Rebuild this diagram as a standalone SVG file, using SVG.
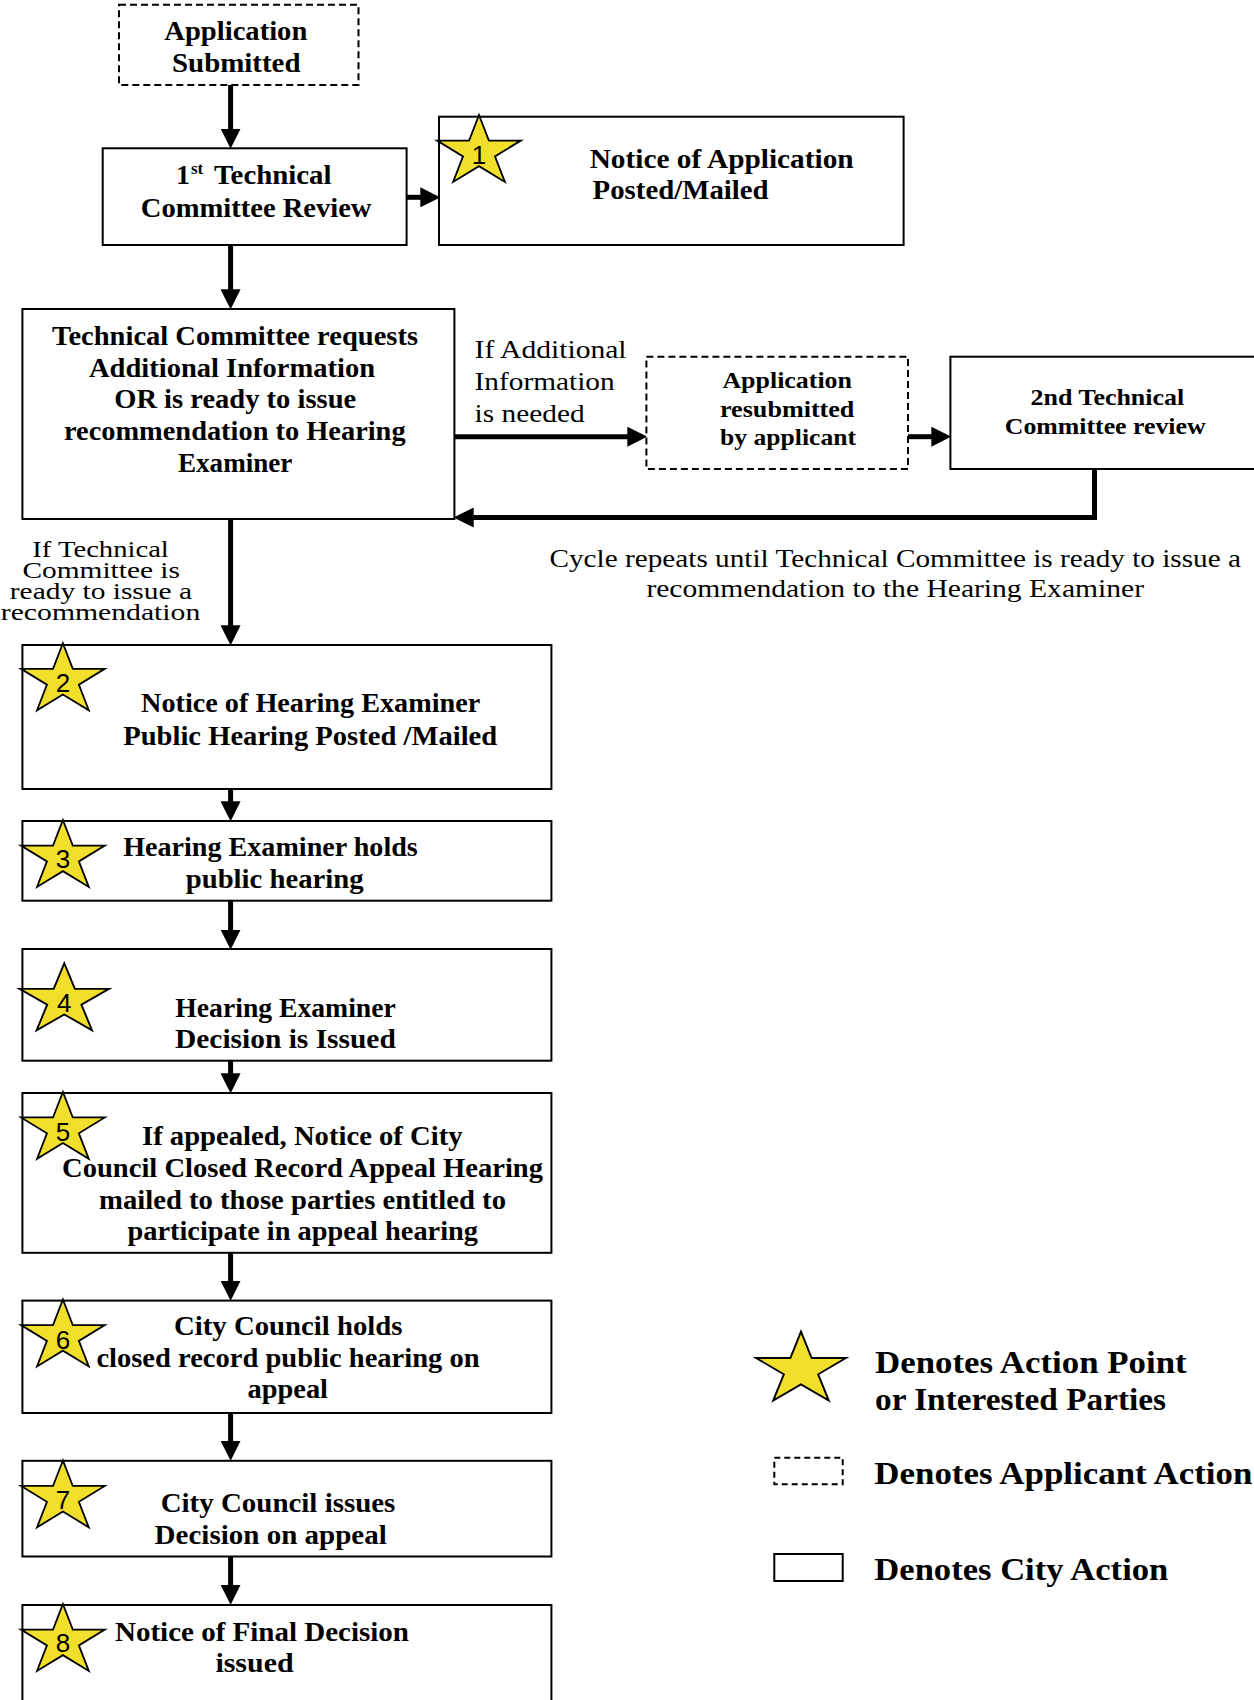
<svg xmlns="http://www.w3.org/2000/svg" xmlns:xlink="http://www.w3.org/1999/xlink" width="1254" height="1700" viewBox="0 0 1254 1700">
<style>
.box{fill:#fff;stroke:#000;stroke-width:2}
.dash{fill:#fff;stroke:#000;stroke-width:2;stroke-dasharray:7 4}
.t{font-family:"Liberation Serif","Times New Roman",serif;font-weight:bold;font-size:28px;fill:#000}
.s{font-size:24px}
.lg{font-size:31px}
.r{font-family:"Liberation Serif","Times New Roman",serif;font-weight:normal;font-size:26px;fill:#000}
.rs{font-size:23px}
.n{font-family:"Liberation Sans",Arial,sans-serif;font-size:26px;text-anchor:middle;fill:#000}
.star{fill:#F2DF2B;stroke:#000;stroke-width:1.8;stroke-linejoin:miter}
.conn{stroke:#000;stroke-width:5;fill:none;stroke-linejoin:miter}
</style>
<defs>
<marker id="ah" markerUnits="userSpaceOnUse" markerWidth="20" markerHeight="20" refX="6" refY="9" orient="auto" viewBox="0 0 18 18">
<path d="M0,0 L18,9 L0,18 Z" fill="#000"/>
</marker>
<polygon id="star" points="0,-37 9.88,-11.43 41.84,-11.43 15.97,4.37 25.87,29.93 0,14.13 -25.87,29.93 -15.97,4.37 -41.84,-11.43 -9.88,-11.43"/>
</defs>
<rect width="1254" height="1700" fill="#fff"/>

<g id="connectors">
<line class="conn" x1="230.6" y1="85" x2="230.6" y2="135.3" marker-end="url(#ah)"/>
<line class="conn" x1="406.6" y1="197.3" x2="427" y2="197.3" marker-end="url(#ah)"/>
<line class="conn" x1="230.6" y1="245" x2="230.6" y2="296" marker-end="url(#ah)"/>
<line class="conn" x1="454.4" y1="436.7" x2="634" y2="436.7" marker-end="url(#ah)"/>
<line class="conn" x1="908" y1="436.7" x2="938" y2="436.7" marker-end="url(#ah)"/>
<polyline class="conn" points="1094.5,469 1094.5,517.5 467,517.5" marker-end="url(#ah)"/>
<line class="conn" x1="230.6" y1="519" x2="230.6" y2="632" marker-end="url(#ah)"/>
<line class="conn" x1="230.6" y1="789" x2="230.6" y2="808" marker-end="url(#ah)"/>
<line class="conn" x1="230.6" y1="900.7" x2="230.6" y2="936.3" marker-end="url(#ah)"/>
<line class="conn" x1="230.6" y1="1060.7" x2="230.6" y2="1080" marker-end="url(#ah)"/>
<line class="conn" x1="230.6" y1="1252.8" x2="230.6" y2="1287.5" marker-end="url(#ah)"/>
<line class="conn" x1="230.6" y1="1413" x2="230.6" y2="1447.5" marker-end="url(#ah)"/>
<line class="conn" x1="230.6" y1="1556.5" x2="230.6" y2="1591.5" marker-end="url(#ah)"/>
</g>

<g id="app-submitted">
<rect class="dash" x="119" y="4.7" width="239.5" height="80.3"/>
<text class="t" x="164.3" y="40" textLength="143" lengthAdjust="spacingAndGlyphs">Application</text>
<text class="t" x="172" y="71.7" textLength="128.5" lengthAdjust="spacingAndGlyphs">Submitted</text>
</g>

<g id="tc-review-1">
<rect class="box" x="102.7" y="148.3" width="303.9" height="96.7"/>
<text class="t" x="176" y="184.3">1</text>
<text class="t" x="191" y="174" style="font-size:17px">st</text>
<text class="t" x="214" y="184.3" textLength="117.5" lengthAdjust="spacingAndGlyphs">Technical</text>
<text class="t" x="140.8" y="216.7" textLength="230.7" lengthAdjust="spacingAndGlyphs">Committee Review</text>
</g>

<g id="notice-application">
<rect class="box" x="439" y="116.7" width="464.6" height="128.3"/>
<use href="#star" class="star" x="479" y="152"/>
<text class="n" x="479" y="164">1</text>
<text class="t" x="589.7" y="167.7" textLength="264" lengthAdjust="spacingAndGlyphs">Notice of Application</text>
<text class="t" x="592.6" y="199.3" textLength="176" lengthAdjust="spacingAndGlyphs">Posted/Mailed</text>
</g>

<g id="tc-requests">
<rect class="box" x="22.4" y="309" width="432" height="210"/>
<text class="t" x="52" y="345" textLength="366" lengthAdjust="spacingAndGlyphs">Technical Committee requests</text>
<text class="t" x="89" y="376.7" textLength="286" lengthAdjust="spacingAndGlyphs">Additional Information</text>
<text class="t" x="114.2" y="408.3" textLength="242" lengthAdjust="spacingAndGlyphs">OR is ready to issue</text>
<text class="t" x="64" y="440" textLength="341.6" lengthAdjust="spacingAndGlyphs">recommendation to Hearing</text>
<text class="t" x="178" y="471.7" textLength="114.4" lengthAdjust="spacingAndGlyphs">Examiner</text>
</g>

<g id="label-additional">
<text class="r" x="474.6" y="358.3" textLength="152" lengthAdjust="spacingAndGlyphs">If Additional</text>
<text class="r" x="474.6" y="390" textLength="140" lengthAdjust="spacingAndGlyphs">Information</text>
<text class="r" x="474.6" y="421.7" textLength="110" lengthAdjust="spacingAndGlyphs">is needed</text>
</g>

<g id="app-resubmitted">
<rect class="dash" x="646.4" y="356.7" width="261.6" height="112.3"/>
<text class="t s" x="722.4" y="388.3" textLength="129.6" lengthAdjust="spacingAndGlyphs">Application</text>
<text class="t s" x="720" y="417.3" textLength="134.4" lengthAdjust="spacingAndGlyphs">resubmitted</text>
<text class="t s" x="720" y="445" textLength="136" lengthAdjust="spacingAndGlyphs">by applicant</text>
</g>

<g id="tc-review-2">
<rect class="box" x="950.4" y="356.7" width="320" height="112.3"/>
<text class="t s" x="1030.6" y="405" textLength="153.6" lengthAdjust="spacingAndGlyphs">2nd Technical</text>
<text class="t s" x="1004.8" y="434" textLength="200.8" lengthAdjust="spacingAndGlyphs">Committee review</text>
</g>

<g id="label-cycle">
<text class="r" x="549.5" y="566.7" textLength="691.5" lengthAdjust="spacingAndGlyphs">Cycle repeats until Technical Committee is ready to issue a</text>
<text class="r" x="646.4" y="596.7" textLength="497.6" lengthAdjust="spacingAndGlyphs">recommendation to the Hearing Examiner</text>
</g>

<g id="label-ready">
<text class="r rs" x="32.3" y="556.7" textLength="136.5" lengthAdjust="spacingAndGlyphs">If Technical</text>
<text class="r rs" x="22.4" y="578" textLength="157.6" lengthAdjust="spacingAndGlyphs">Committee is</text>
<text class="r rs" x="9.8" y="598.5" textLength="182.2" lengthAdjust="spacingAndGlyphs">ready to issue a</text>
<text class="r rs" x="0.8" y="620" textLength="199.5" lengthAdjust="spacingAndGlyphs">recommendation</text>
</g>

<g id="step2">
<rect class="box" x="22.4" y="645" width="529" height="144"/>
<use href="#star" class="star" x="62.9" y="680.3"/>
<text class="n" x="62.9" y="691.7">2</text>
<text class="t" x="141" y="711.7" textLength="339.3" lengthAdjust="spacingAndGlyphs">Notice of Hearing Examiner</text>
<text class="t" x="123.2" y="745" textLength="374" lengthAdjust="spacingAndGlyphs">Public Hearing Posted /Mailed</text>
</g>

<g id="step3">
<rect class="box" x="22.4" y="821" width="529" height="79.7"/>
<use href="#star" class="star" x="62.9" y="857"/>
<text class="n" x="62.9" y="868">3</text>
<text class="t" x="123.2" y="856" textLength="294.6" lengthAdjust="spacingAndGlyphs">Hearing Examiner holds</text>
<text class="t" x="185.7" y="888" textLength="178" lengthAdjust="spacingAndGlyphs">public hearing</text>
</g>

<g id="step4">
<rect class="box" x="22.4" y="949" width="529" height="111.7"/>
<use href="#star" class="star" transform="translate(64.3,1000.3) scale(1.07,1)"/>
<text class="n" x="64.3" y="1011.7">4</text>
<text class="t" x="175.3" y="1016.7" textLength="220.5" lengthAdjust="spacingAndGlyphs">Hearing Examiner</text>
<text class="t" x="175" y="1047.7" textLength="220.8" lengthAdjust="spacingAndGlyphs">Decision is Issued</text>
</g>

<g id="step5">
<rect class="box" x="22.4" y="1093" width="529" height="159.8"/>
<use href="#star" class="star" x="62.9" y="1128.9"/>
<text class="n" x="62.9" y="1141">5</text>
<text class="t" x="142" y="1144.5" textLength="320.5" lengthAdjust="spacingAndGlyphs">If appealed, Notice of City</text>
<text class="t" x="62" y="1176.9" textLength="481" lengthAdjust="spacingAndGlyphs">Council Closed Record Appeal Hearing</text>
<text class="t" x="99" y="1208.5" textLength="407" lengthAdjust="spacingAndGlyphs">mailed to those parties entitled to</text>
<text class="t" x="127.5" y="1240" textLength="350.5" lengthAdjust="spacingAndGlyphs">participate in appeal hearing</text>
</g>

<g id="step6">
<rect class="box" x="22.4" y="1300.6" width="529" height="112.4"/>
<use href="#star" class="star" x="62.9" y="1336.5"/>
<text class="n" x="62.9" y="1349">6</text>
<text class="t" x="174" y="1335" textLength="228.5" lengthAdjust="spacingAndGlyphs">City Council holds</text>
<text class="t" x="96.4" y="1366.7" textLength="383.2" lengthAdjust="spacingAndGlyphs">closed record public hearing on</text>
<text class="t" x="247.5" y="1398.3" textLength="80.5" lengthAdjust="spacingAndGlyphs">appeal</text>
</g>

<g id="step7">
<rect class="box" x="22.4" y="1460.8" width="529" height="95.7"/>
<use href="#star" class="star" x="62.9" y="1497.4"/>
<text class="n" x="62.9" y="1509">7</text>
<text class="t" x="160.7" y="1511.8" textLength="234.7" lengthAdjust="spacingAndGlyphs">City Council issues</text>
<text class="t" x="154.6" y="1543.8" textLength="232.2" lengthAdjust="spacingAndGlyphs">Decision on appeal</text>
</g>

<g id="step8">
<rect class="box" x="22.4" y="1605" width="529" height="120"/>
<use href="#star" class="star" x="62.9" y="1641"/>
<text class="n" x="62.9" y="1652">8</text>
<text class="t" x="115" y="1640.7" textLength="294" lengthAdjust="spacingAndGlyphs">Notice of Final Decision</text>
<text class="t" x="215.4" y="1672.3" textLength="78.2" lengthAdjust="spacingAndGlyphs">issued</text>
</g>

<g id="legend">
<use href="#star" class="star" transform="translate(801,1369.8) scale(1.075,1.03)"/>
<text class="t lg" x="875" y="1372.7" textLength="311.7" lengthAdjust="spacingAndGlyphs">Denotes Action Point</text>
<text class="t lg" x="875" y="1410" textLength="291" lengthAdjust="spacingAndGlyphs">or Interested Parties</text>
<rect class="dash" x="774.3" y="1457.7" width="68.4" height="26.6" style="stroke-dasharray:6 4"/>
<text class="t lg" x="874.3" y="1484.3" textLength="378" lengthAdjust="spacingAndGlyphs">Denotes Applicant Action</text>
<rect class="box" x="774.3" y="1554" width="68.4" height="27"/>
<text class="t lg" x="874.3" y="1580" textLength="294" lengthAdjust="spacingAndGlyphs">Denotes City Action</text>
</g>
</svg>
